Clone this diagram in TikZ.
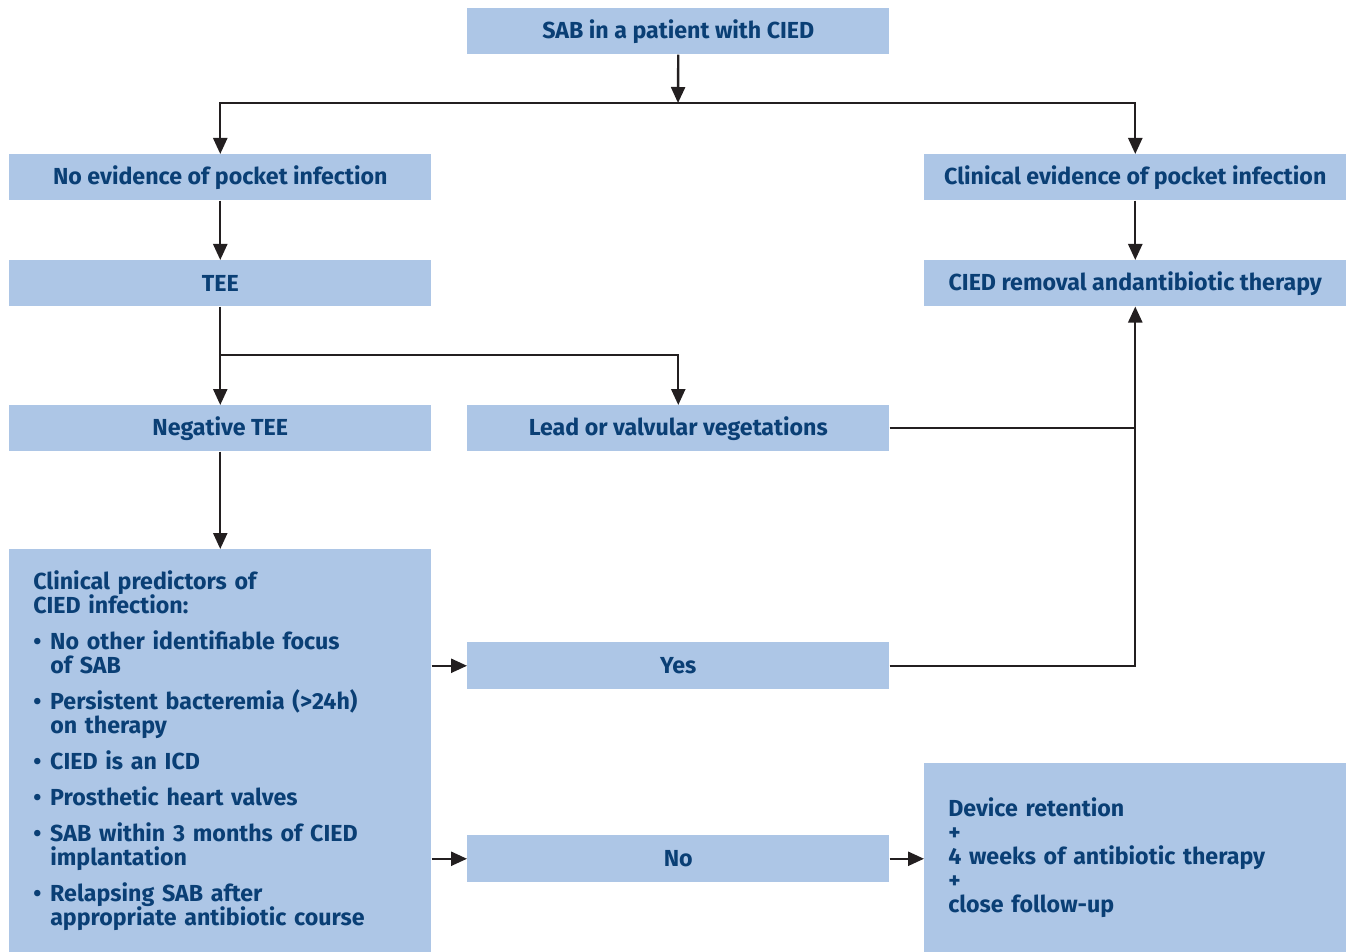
\documentclass[tikz,border=0pt]{standalone}
\usepackage{fontspec}
\setmainfont{Fira Sans}
\usetikzlibrary{arrows.meta}
\definecolor{boxblue}{HTML}{ADC6E6}
\definecolor{txtblue}{HTML}{0A3F75}
\definecolor{arr}{HTML}{231F20}
\newcommand{\bitem}[1]{\makebox[12.75pt][l]{•}#1}
\newcommand{\bcont}[1]{\hspace*{12.75pt}#1}
\begin{document}
\begin{tikzpicture}[x=0.75pt,y=-0.75pt,
  box/.style={fill=boxblue, text=txtblue, font=\bfseries\fontsize{17.4}{18}\selectfont,
    minimum width=316.5pt, minimum height=34.5pt, inner sep=0pt, anchor=north west},
  conn/.style={draw=arr, line width=1.8pt},
  arrow/.style={conn, -{Triangle[length=12pt,width=10.5pt]}}]
\useasboundingbox (0,0) rectangle (1349,952);
\node[box] (sab) at (467,8) {SAB in a patient with CIED};
\node[box] (noev) at (9,154) {No evidence of pocket infection};
\node[box] (clin) at (924,154) {Clinical evidence of pocket infection};
\node[box] (tee) at (9,260) {TEE};
\node[box] (rem) at (924,260) {CIED removal andantibiotic therapy};
\node[box] (neg) at (9,405) {Negative TEE};
\node[box] (lead) at (467,405) {Lead or valvular vegetations};
\node[box, minimum height=302.25pt, text width=280.5pt, align=left, inner xsep=18pt] (pred) at (9,549) {Clinical predictors of\\CIED infection:\\[9pt]
\bitem{No other identifiable focus}\\\bcont{of SAB}\\[9pt]
\bitem{Persistent bacteremia (>24h)}\\\bcont{on therapy}\\[9pt]
\bitem{CIED is an ICD}\\[9pt]
\bitem{Prosthetic heart valves}\\[9pt]
\bitem{SAB within 3 months of CIED}\\\bcont{implantation}\\[9pt]
\bitem{Relapsing SAB after}\\\bcont{appropriate antibiotic course}};
\node[box, minimum height=35.25pt] (yes) at (467,642) {Yes};
\node[box, minimum height=35.25pt] (no) at (467,835) {No};
\node[box, minimum height=141.75pt, text width=280.5pt, align=left, inner xsep=18pt] (dev) at (924,763) {Device retention\\+\\4 weeks of antibiotic therapy\\+\\close follow-up};
\coordinate (j1) at (678,103);
\coordinate (j2) at (220,355);
\draw[arrow] (sab.south) -- (j1);
\draw[arrow] (j1) -| (noev.north);
\draw[arrow] (j1) -| (clin.north);
\draw[arrow] (noev.south) -- (tee.north);
\draw[arrow] (clin.south) -- (rem.north);
\draw[arrow] (tee.south) -- (neg.north);
\draw[arrow] (tee.south |- j2) -| (lead.north);
\draw[conn] (lead.east) -- (lead.east -| rem.south);
\draw[arrow] (yes.east) -| (rem.south);
\draw[arrow] (neg.south) -- (pred.north);
\draw[arrow] (pred.east |- yes.west) -- (yes.west);
\draw[arrow] (pred.east |- no.west) -- (no.west);
\draw[arrow] (no.east) -- (dev.west |- no.east);
\end{tikzpicture}
\end{document}
